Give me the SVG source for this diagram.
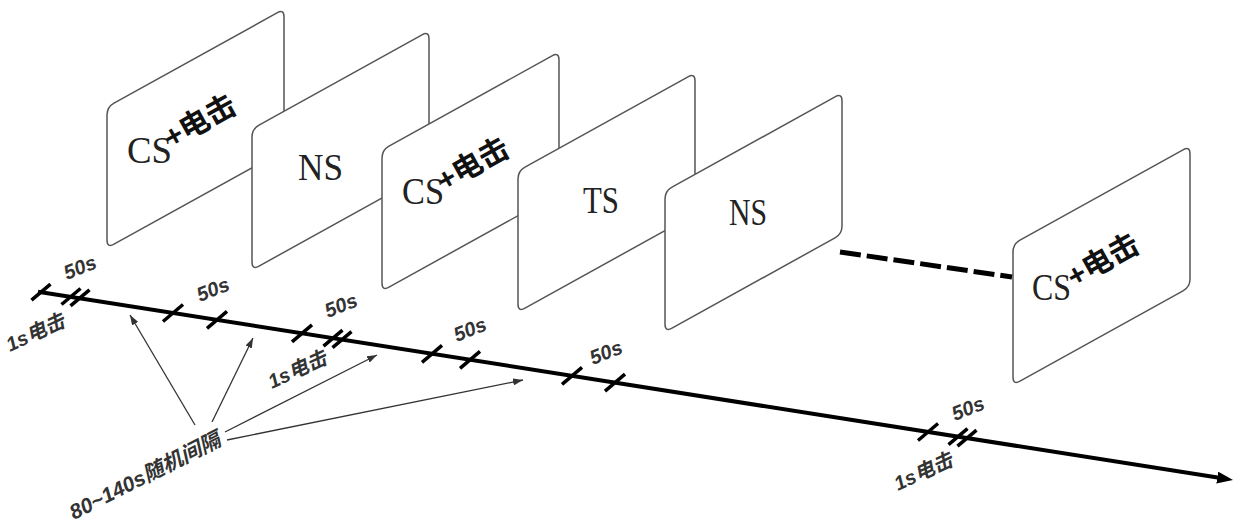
<svg xmlns="http://www.w3.org/2000/svg" xmlns:xlink="http://www.w3.org/1999/xlink" width="1240" height="531" viewBox="0 0 1240 531">
<style>
.card{fill:#fff;stroke:#555;stroke-width:1.5}
.ser{font-family:"Liberation Serif","Noto Sans CJK SC",serif;font-size:38px;fill:#222}
.plus{font-family:"Liberation Sans","Noto Sans CJK SC",sans-serif;font-size:30px;font-weight:bold;fill:#111}
.lab{font-family:"Liberation Sans","Noto Sans CJK SC",sans-serif;font-size:20px;font-weight:bold;font-style:italic;fill:#333}
.tick{stroke:#000;stroke-width:3.5;stroke-linecap:butt}
.thin{stroke:#333;stroke-width:1.3;fill:none}
</style>
<defs>
<path id="cardShape" class="card" d="M0,8 Q0,0 7,-3.9 L170,-94.1 Q177,-98 177,-90 L177,35 Q177,43 170,46.9 L7,137.1 Q0,141 0,133 Z"/>
<marker id="bigArrow" markerUnits="userSpaceOnUse" markerWidth="16" markerHeight="12" refX="10" refY="6" orient="auto"><path d="M0,0 L16,6 L0,12 Z" fill="#000"/></marker>
<marker id="smallArrow" markerUnits="userSpaceOnUse" markerWidth="10" markerHeight="7" refX="10" refY="3.5" orient="auto"><path d="M0,0 L10,3.5 L0,7 Z" fill="#333"/></marker>
</defs>

<g id="card1" transform="translate(107,107)">
<use xlink:href="#cardShape"/>
<text class="ser" x="20" y="56" textLength="45" lengthAdjust="spacingAndGlyphs">CS</text>
<text class="plus" transform="translate(64,42) rotate(-29)">+电击</text>
</g>
<g id="card2" transform="translate(252,129)">
<use xlink:href="#cardShape"/>
<text class="ser" x="46" y="51" textLength="45" lengthAdjust="spacingAndGlyphs">NS</text>
</g>
<g id="card3" transform="translate(382,150)">
<use xlink:href="#cardShape"/>
<text class="ser" x="20" y="54" textLength="42" lengthAdjust="spacingAndGlyphs">CS</text>
<text class="plus" transform="translate(62,42) rotate(-29)">+电击</text>
</g>
<g id="card4" transform="translate(518,171)">
<use xlink:href="#cardShape"/>
<text class="ser" x="65" y="42" textLength="36" lengthAdjust="spacingAndGlyphs">TS</text>
</g>
<g id="card5" transform="translate(665,191)">
<use xlink:href="#cardShape"/>
<text class="ser" x="64" y="34" textLength="38" lengthAdjust="spacingAndGlyphs">NS</text>
</g>
<g id="card6" transform="translate(1013,244)">
<use xlink:href="#cardShape"/>
<text class="ser" x="19" y="56" textLength="39" lengthAdjust="spacingAndGlyphs">CS</text>
<text class="plus" transform="translate(61,44) rotate(-29)">+电击</text>
</g>

<g id="connectors">
<line x1="840" y1="252" x2="1012" y2="277" stroke="#000" stroke-width="5" stroke-dasharray="21 6"/>
<line x1="38" y1="291.7" x2="1227.1" y2="479.1" stroke="#000" stroke-width="4" marker-end="url(#bigArrow)"/>
<g id="ticks">
<line class="tick" x1="31.5" y1="300.2" x2="50.5" y2="284.2"/>
<line class="tick" x1="61.5" y1="304.5" x2="80.5" y2="288.5"/>
<line class="tick" x1="70.5" y1="305.9" x2="89.5" y2="289.9"/>
<line class="tick" x1="163" y1="321.5" x2="183" y2="304.5"/>
<line class="tick" x1="207" y1="328.4" x2="227" y2="311.4"/>
<line class="tick" x1="292" y1="341.8" x2="312" y2="324.8"/>
<line class="tick" x1="323.5" y1="346.2" x2="342.5" y2="330.2"/>
<line class="tick" x1="332.5" y1="347.6" x2="351.5" y2="331.6"/>
<line class="tick" x1="422" y1="362.3" x2="442" y2="345.3"/>
<line class="tick" x1="460" y1="368.3" x2="480" y2="351.3"/>
<line class="tick" x1="562" y1="384.3" x2="582" y2="367.3"/>
<line class="tick" x1="605" y1="391.1" x2="625" y2="374.1"/>
<line class="tick" x1="918" y1="440.5" x2="938" y2="423.5"/>
<line class="tick" x1="948.5" y1="444.7" x2="967.5" y2="428.7"/>
<line class="tick" x1="957.5" y1="446.1" x2="976.5" y2="430.1"/>
</g>
<line class="thin" x1="195" y1="425" x2="130" y2="315" marker-end="url(#smallArrow)"/>
<line class="thin" x1="212" y1="422" x2="253" y2="338" marker-end="url(#smallArrow)"/>
<line class="thin" x1="225" y1="432" x2="377" y2="355" marker-end="url(#smallArrow)"/>
<line class="thin" x1="227" y1="440" x2="523" y2="380" marker-end="url(#smallArrow)"/>
</g>

<g id="labels">
<text class="lab" transform="translate(67,280) rotate(-22)">50s</text>
<text class="lab" transform="translate(200,302) rotate(-22)">50s</text>
<text class="lab" transform="translate(328,318) rotate(-22)">50s</text>
<text class="lab" transform="translate(457,342) rotate(-22)">50s</text>
<text class="lab" transform="translate(593,365) rotate(-22)">50s</text>
<text class="lab" transform="translate(955,421) rotate(-22)">50s</text>
<text class="lab" transform="translate(10,352) rotate(-25)">1s电击</text>
<text class="lab" transform="translate(272,389) rotate(-25)">1s电击</text>
<text class="lab" transform="translate(898,491) rotate(-25)">1s电击</text>
<text class="lab" style="font-size:21px" transform="translate(74,520) rotate(-27)">80~140s随机间隔</text>
</g>
</svg>
